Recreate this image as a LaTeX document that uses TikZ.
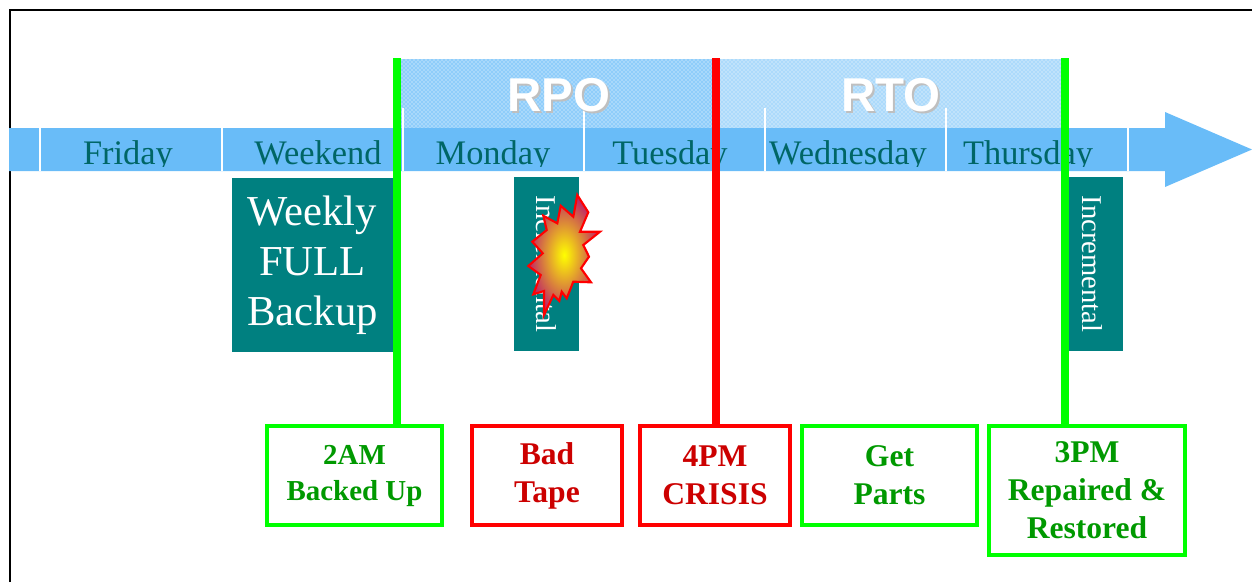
\documentclass[tikz,border=0pt]{standalone}
\usepackage{fontspec}
\setmainfont{Liberation Serif}
\newfontfamily\objfont{Liberation Sans}
\usepackage{xcolor}
\usetikzlibrary{patterns}
\definecolor{barblue}{HTML}{69BCF8}
\definecolor{dayteal}{HTML}{006666}
\definecolor{boxteal}{HTML}{008080}
\definecolor{okgreen}{HTML}{009900}
\definecolor{badred}{HTML}{CC0000}
\tikzset{
  x=0.75pt,
  y=-0.75pt,
  every node/.style={inner sep=0pt, outer sep=0pt},
  day/.style={anchor=base, text=dayteal, font=\fontsize{25.8}{30}\selectfont},
  sep/.style={draw=white, line width=1.2pt},
  backup/.style={fill=boxteal, text=white, align=center},
  incr/.style={backup, rotate=-90, minimum width=130.5pt, font=\fontsize{21.5}{26}\selectfont},
  mark line/.style={line width=6pt},
  okbox/.style={draw=green, line width=2.7pt, fill=white, text=okgreen, align=center, font=\bfseries\fontsize{23.7}{28.5}\selectfont},
  badbox/.style={okbox, draw=red, text=badred},
  objective/.style={text=white, font=\objfont\bfseries\fontsize{35.6}{40}\selectfont}
}

\begin{document}
\begin{tikzpicture}
    \useasboundingbox (0,0) rectangle (1252,582);
    \draw[line width=1.9pt] (10,582) -- (10,10) -- (1252,10);
    % objective bands
    \fill[barblue!75!white] (400,59) rectangle (716,128);
    \fill[barblue!55!white] (716,59) rectangle (1061,128);
    \fill[pattern=crosshatch dots, pattern color=white] (400,59) rectangle (1061,128);
    % time line
    \fill[barblue] (9,128) -- (1165,128) -- (1165,112) -- (1252,149.5) -- (1165,187) -- (1165,171) -- (9,171) -- cycle;
    \begin{scope}
      \clip (9,128) rectangle (1165,166);
      \node[day] (fri) at (128,164) {Friday};
      \node[day] (wkd) at (318,164) {Weekend};
      \node[day] (mon) at (493,164) {Monday};
      \node[day] (tue) at (670,164) {Tuesday};
      \node[day] (wed) at (848,164) {Wednesday};
      \node[day] (thu) at (1028,164) {Thursday};
    \end{scope}
    \draw[sep] (40,128) -- (40,171);
    \draw[sep] (222,128) -- (222,171);
    \draw[sep] (403,108) -- (403,171);
    \draw[sep] (584,110) -- (584,171);
    \draw[sep] (765,108) -- (765,171);
    \draw[sep] (946,108) -- (946,171);
    \draw[sep] (1128,128) -- (1128,171);
    \foreach \t/\n/\x in {RPO/rpo/559, RTO/rto/891} {
      \node[objective, text=black!25] (\n shadow) at (\x+2,97) {\t};
      \node[objective] (\n) at (\x,95) {\t};
    }
    % backups
    \node[backup, minimum width=120.75pt, minimum height=130.5pt, font=\fontsize{32}{37.5}\selectfont] (full) at (312.5,265) {Weekly\\FULL\\Backup};
    \node[incr, minimum height=48.75pt] (incr1) at (546.5,264) {Incremental};
    \node[incr, minimum height=46.5pt] (incr2) at (1092,264) {Incremental};
    % failure
    \shade[inner color=yellow, outer color=red!70!blue!85!white, draw=red, line width=1.6pt, line join=miter]
      (577.3,195) -- (573.3,216.7) -- (560.7,205.7) -- (557.3,223.3) -- (543.3,215.7) -- (546.7,230)
      -- (532.3,241.7) -- (542.7,253.3) -- (528.3,266) -- (540.7,275) -- (533.3,294.3) -- (544,291)
      -- (544,315) -- (553.3,295) -- (559.3,301) -- (561.7,291.7) -- (566.7,298.3) -- (573.3,281.7)
      -- (591,282.3) -- (581,268.3) -- (589,256.7) -- (583.3,245) -- (600,231.7) -- (580,231.7)
      -- (588.3,212.3) -- cycle;
    % events
    \node[okbox, minimum width=131pt, minimum height=74pt, font=\bfseries\fontsize{21.7}{27}\selectfont] (backed) at (354.5,475.5) {2AM\\Backed Up};
    \node[badbox, minimum width=112.5pt, minimum height=74pt] (tape) at (547,475.5) {Bad\\Tape};
    \node[badbox, minimum width=112.5pt, minimum height=74pt] (crisis) at (715,475.5) {4PM\\CRISIS};
    \node[okbox, minimum width=131pt, minimum height=74pt] (parts) at (889.5,475.5) {Get\\Parts};
    \node[okbox, minimum width=147pt, minimum height=96.75pt] (restored) at (1087,490.5) {3PM\\Repaired \&\\Restored};
    \coordinate (backedTop) at (397,58);
    \coordinate (crisisTop) at (716,58);
    \coordinate (restoredTop) at (1065,58);
    \draw[mark line, green] (backedTop) -- (backedTop |- backed.north);
    \draw[mark line, red] (crisisTop) -- (crisisTop |- crisis.north);
    \draw[mark line, green] (restoredTop) -- (restoredTop |- restored.north);
\end{tikzpicture}
\end{document}
